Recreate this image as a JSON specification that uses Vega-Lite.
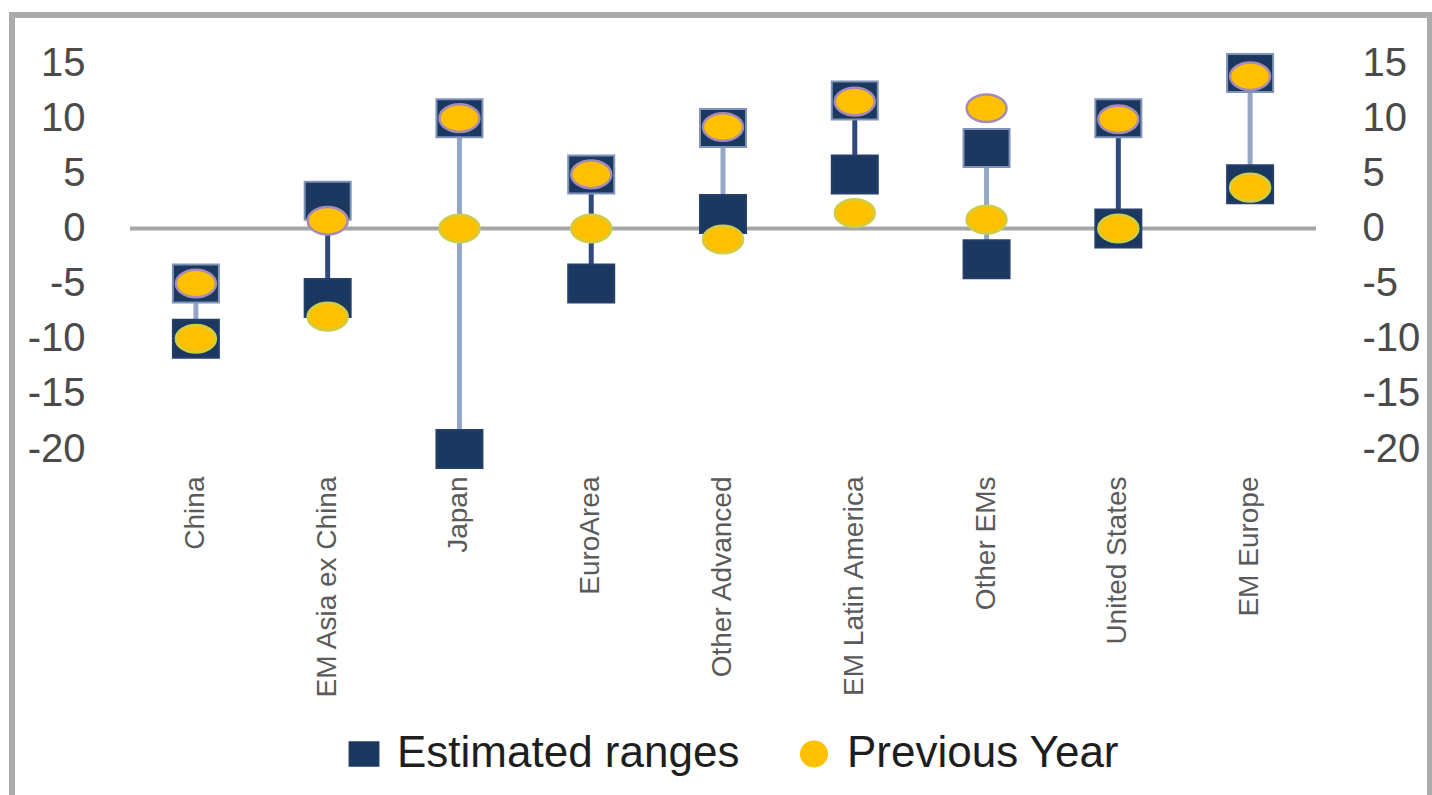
{
  "$schema": "https://vega.github.io/schema/vega-lite/v6.json",
  "width": 1418,
  "height": 780,
  "autosize": {"type": "none"},
  "padding": {"left": 12, "top": 15, "right": 2, "bottom": 0},
  "background": "white",
  "config": {
    "font": "Liberation Sans",
    "view": {"stroke": "#ababab", "strokeWidth": 6, "strokeDash": [2198, 1418, 780]},
    "axisX": {"orient": "bottom", "offset": -319, "title": null, "domain": false, "ticks": false, "tickSize": 0, "labelPadding": 0, "labelAngle": -90, "labelFontSize": 28, "labelColor": "#5a5a5a", "labelLimit": 400, "labelOverlap": false, "labelBound": false}
  },
  "datasets": {
    "regions": [
      {"region": "China", "low": -10, "high": -5, "prevLow": -10, "prevHigh": -5},
      {"region": "EM Asia ex China", "low": -6.3, "high": 2.5, "prevLow": -8, "prevHigh": 0.7},
      {"region": "Japan", "low": -20, "high": 10, "prevLow": 0, "prevHigh": 10},
      {"region": "EuroArea", "low": -5, "high": 4.9, "prevLow": 0, "prevHigh": 4.9},
      {"region": "Other Advanced", "low": 1.3, "high": 9.1, "prevLow": -1, "prevHigh": 9.2},
      {"region": "EM Latin America", "low": 4.9, "high": 11.6, "prevLow": 1.4, "prevHigh": 11.5},
      {"region": "Other EMs", "low": -2.8, "high": 7.3, "prevLow": 0.8, "prevHigh": 10.9},
      {"region": "United States", "low": 0, "high": 10, "prevLow": 0, "prevHigh": 9.9},
      {"region": "EM Europe", "low": 4, "high": 14.1, "prevLow": 3.7, "prevHigh": 13.8}
    ],
    "baseline": [{"from": "China", "to": "EM Europe", "level": 0}]
  },
  "data": {"name": "regions"},
  "layer": [
    {
      "data": {"name": "baseline"},
      "mark": {"type": "rule", "color": "#a6a6a6", "strokeWidth": 4},
      "encoding": {
        "x": {
          "field": "from", "type": "nominal", "bandPosition": 0, "title": null,
          "scale": {"type": "band", "domain": ["China", "EM Asia ex China", "Japan", "EuroArea", "Other Advanced", "EM Latin America", "Other EMs", "United States", "EM Europe"], "range": [118, 1304], "paddingInner": 0, "paddingOuter": 0}
        },
        "x2": {"field": "to", "bandPosition": 1},
        "y": {"field": "level", "type": "quantitative", "scale": {"domain": [-20, 15], "range": [434, 48], "nice": false, "zero": false}, "axis": null}
      }
    },
    {
      "mark": {"type": "rule", "strokeWidth": 5},
      "encoding": {
        "x": {
          "field": "region", "type": "nominal", "title": null,
          "scale": {"type": "band", "domain": ["China", "EM Asia ex China", "Japan", "EuroArea", "Other Advanced", "EM Latin America", "Other EMs", "United States", "EM Europe"], "range": [118, 1304], "paddingInner": 0, "paddingOuter": 0}
        },
        "y": {"field": "low", "type": "quantitative", "scale": {"domain": [-20, 15], "range": [434, 48], "nice": false, "zero": false}, "axis": null},
        "y2": {"field": "high"},
        "stroke": {
          "condition": {"test": "indexof(['China', 'Japan', 'Other Advanced', 'Other EMs', 'EM Europe'], datum.region) >= 0", "value": "#94a7c5"},
          "value": "#2e4a7c"
        }
      }
    },
    {
      "transform": [{"fold": ["low", "high"], "as": ["bound", "value"]}],
      "mark": {"type": "point", "filled": true, "opacity": 1, "size": 1600, "strokeWidth": 2},
      "encoding": {
        "x": {"field": "region", "type": "nominal", "title": null},
        "y": {
          "field": "value", "type": "quantitative",
          "scale": {"domain": [-20, 15], "range": [434, 48], "nice": false, "zero": false},
          "axis": {"orient": "left", "offset": -73, "values": [-20, -15, -10, -5, 0, 5, 10, 15], "title": null, "domain": false, "ticks": false, "tickSize": 0, "grid": false, "labelPadding": 0, "labelFontSize": 40, "labelColor": "#4a4a4a", "labelFlush": false, "labelOverlap": false, "labelBound": false, "labelExpr": "'' + datum.value"}
        },
        "color": {
          "datum": "Estimated ranges",
          "scale": {"domain": ["Estimated ranges", "Previous Year"], "range": ["#1b3861", "#ffc000"]},
          "legend": {"orient": "none", "legendX": 330, "legendY": 717, "direction": "horizontal", "title": null, "labelFontSize": 44, "labelColor": "#1e1e1e", "labelLimit": 600, "symbolSize": 720, "labelOffset": 11, "columnPadding": 52, "symbolStrokeWidth": 0,
            "encode": {"symbols": {"update": {"stroke": {"signal": "datum.value === 'Previous Year' ? '#b3c350' : '#1b3861'"}, "strokeWidth": {"value": 2.5}}}}}
        },
        "shape": {
          "datum": "Estimated ranges",
          "scale": {"domain": ["Estimated ranges", "Previous Year"], "range": ["M -1.15 -0.95 H 1.15 V 0.95 H -1.15 Z", "M -1.05 0 A 1.05 1 0 1 1 1.05 0 A 1.05 1 0 1 1 -1.05 0 Z"]},
          "legend": {"orient": "none", "legendX": 330, "legendY": 717, "direction": "horizontal", "title": null, "labelFontSize": 44, "labelColor": "#1e1e1e", "labelLimit": 600, "symbolSize": 720, "labelOffset": 11, "columnPadding": 52, "symbolStrokeWidth": 0,
            "encode": {"symbols": {"update": {"stroke": {"signal": "datum.value === 'Previous Year' ? '#b3c350' : '#1b3861'"}, "strokeWidth": {"value": 2.5}}}}}
        },
        "stroke": {
          "condition": {"test": "datum.bound === 'high'", "value": "#7f92b8"},
          "value": "#243f68"
        }
      }
    },
    {
      "transform": [{"fold": ["prevLow", "prevHigh"], "as": ["bound", "value"]}],
      "mark": {"type": "point", "filled": true, "opacity": 1, "size": 760, "strokeWidth": 2.5, "shape": "M -1.45 0 A 1.45 1 0 1 1 1.45 0 A 1.45 1 0 1 1 -1.45 0 Z"},
      "encoding": {
        "x": {"field": "region", "type": "nominal", "title": null},
        "y": {
          "field": "value", "type": "quantitative",
          "scale": {"domain": [-20, 15], "range": [434, 48], "nice": false, "zero": false},
          "axis": {"orient": "right", "offset": -68, "values": [-20, -15, -10, -5, 0, 5, 10, 15], "title": null, "domain": false, "ticks": false, "tickSize": 0, "grid": false, "labelPadding": 0, "labelFontSize": 40, "labelColor": "#4a4a4a", "labelFlush": false, "labelOverlap": false, "labelBound": false, "labelExpr": "'' + datum.value"}
        },
        "color": {"datum": "Previous Year"},
        "stroke": {
          "condition": {"test": "datum.bound === 'prevHigh'", "value": "#a68bb6"},
          "value": "#cdcd46"
        }
      }
    }
  ],
  "resolve": {"axis": {"y": "independent"}}
}
